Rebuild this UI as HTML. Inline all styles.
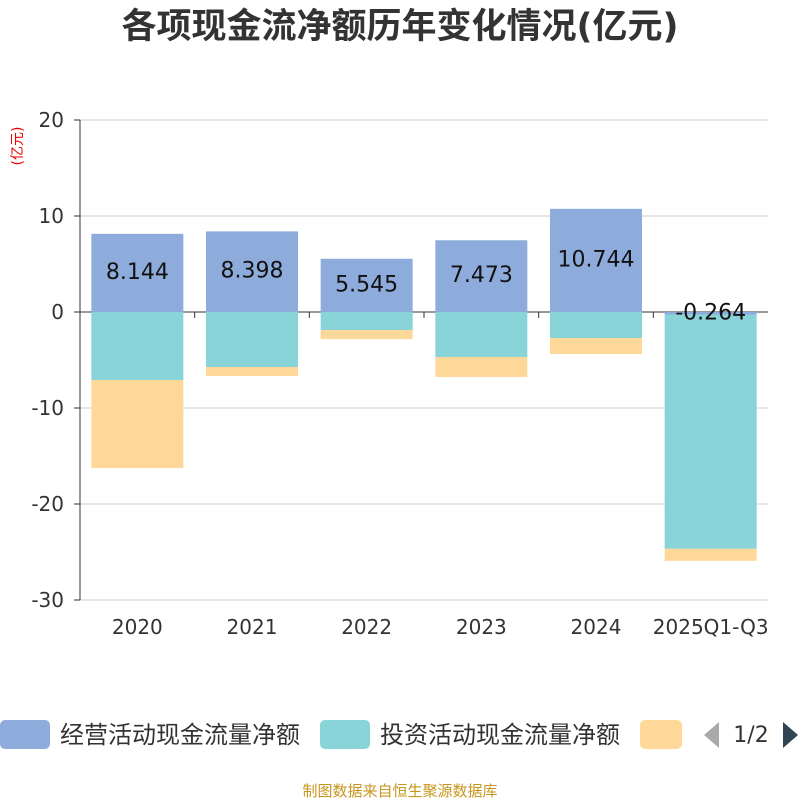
<!DOCTYPE html>
<html><head><meta charset="utf-8"><style>
body{margin:0;background:#fff;width:800px;height:800px;overflow:hidden;font-family:"Liberation Sans","Noto Sans CJK SC",sans-serif;}
</style></head><body>
<svg width="800" height="800" id="chart" xmlns="http://www.w3.org/2000/svg" font-family="DejaVu Sans, Noto Sans CJK SC, sans-serif">
<text x="400" y="38" text-anchor="middle" font-size="35" font-weight="bold" fill="#333">各项现金流净额历年变化情况(亿元)</text>
<text transform="translate(22,146) rotate(-90)" text-anchor="middle" font-size="14" fill="#e00">(亿元)</text>
<g id="grid"></g><g id="bars"></g><g id="labels"></g>
<g>
<rect x="0" y="720" width="50" height="29" rx="5" fill="#8eacdb"/>
<text x="60" y="743" font-size="24" fill="#333">经营活动现金流量净额</text>
<rect x="320" y="720" width="50" height="29" rx="5" fill="#88d4d8"/>
<text x="380" y="743" font-size="24" fill="#333">投资活动现金流量净额</text>
<rect x="640" y="720" width="42" height="29" rx="5" fill="#fed899"/>
<polygon points="719,722 719,748 704,735" fill="#aaa"/>
<text x="751" y="742" text-anchor="middle" font-size="22" fill="#333">1/2</text>
<polygon points="783,722 783,748 798,735" fill="#2f4554"/>
</g>
<text x="400" y="796" text-anchor="middle" font-size="15" fill="#c8961e">制图数据来自恒生聚源数据库</text>
</svg>
<script>
const categories=["2020","2021","2022","2023","2024","2025Q1-Q3"];
const operating=[8.144,8.398,5.545,7.473,10.744,-0.264];
const investing=[-7.08,-5.73,-1.88,-4.69,-2.71,-24.4];
const financing=[-9.17,-0.94,-0.94,-2.08,-1.67,-1.25];
const opLabels=["8.144","8.398","5.545","7.473","10.744","-0.264"];
const yTicks=[20,10,0,-10,-20,-30];
const NS="http://www.w3.org/2000/svg";
const x0=80,x1=768,bw=92;
const cw=(x1-x0)/categories.length;
const y=v=>312-v*9.6;
const cx=i=>x0+cw*(i+0.5);
function mk(tag,attrs,parent){const e=document.createElementNS(NS,tag);for(const k in attrs)e.setAttribute(k,attrs[k]);document.getElementById(parent).appendChild(e);return e;}
yTicks.forEach(t=>{
 const l=mk('line',{x1:x0,x2:x1,y1:y(t),y2:y(t),stroke:t===0?'#333':'#ccc','stroke-width':1},'grid');
 
 
 const tx=mk('text',{x:64,y:y(t)+7,'text-anchor':'end','font-size':20,fill:'#333'},'grid');
 tx.textContent=t;
 
 
 mk('line',{x1:x0-6,x2:x0,y1:y(t),y2:y(t),stroke:'#333'},'grid');
});
mk('line',{x1:x0,x2:x0,y1:y(20),y2:y(-30),stroke:'#333'},'grid');
categories.forEach((c,i)=>{
 mk('line',{x1:x0+cw*i,x2:x0+cw*i,y1:312,y2:318,stroke:'#333'},'grid');
 const t=mk('text',{x:cx(i),y:634,'text-anchor':'middle','font-size':20,fill:'#333'},'grid');
 t.textContent=c;
 
 
 let pos=0,neg=0;
 [[operating,'#8eacdb','operating'],[investing,'#88d4d8','investing'],[financing,'#fed899','financing']].forEach(([arr,col,nm])=>{
  const v=arr[i];let a,b;
  if(v>=0){a=pos;b=pos+v;pos=b;}else{a=neg;b=neg+v;neg=b;}
  const r=mk('rect',{x:cx(i)-bw/2,width:bw,y:Math.min(y(a),y(b)),height:Math.abs(y(a)-y(b)),fill:col},'bars');
  
  
 });
 const lv=operating[i];
 const lt=mk('text',{x:cx(i),y:(y(0)+y(lv))/2+6,'text-anchor':'middle','font-size':22,fill:'#111'},'labels');
 lt.textContent=opLabels[i];
 
 
});
</script>
</body></html>
